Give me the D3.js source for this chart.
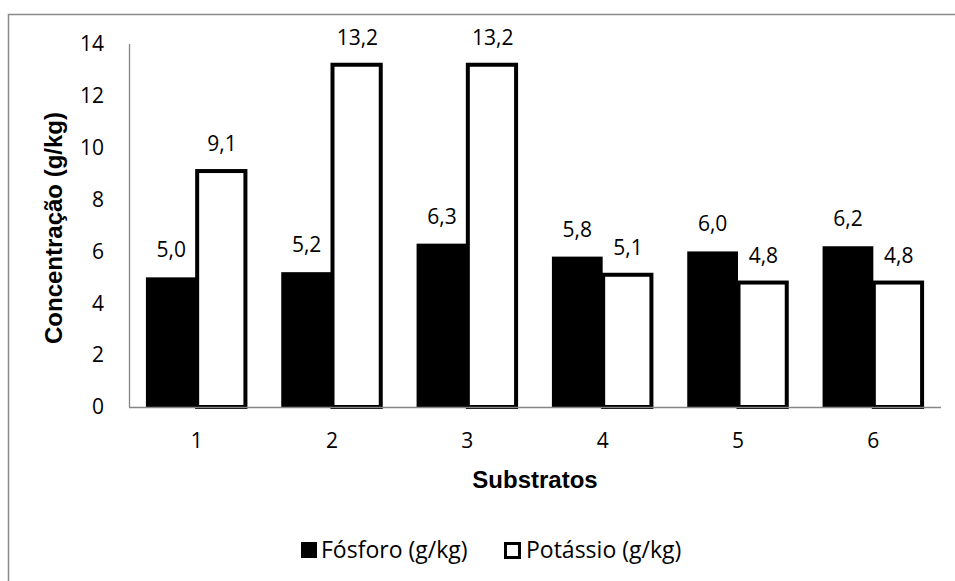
<!DOCTYPE html>
<html>
<head>
<meta charset="utf-8">
<script src="https://cdn.jsdelivr.net/npm/d3@7"></script>
<style>
  html, body { margin: 0; padding: 0; background: #fff; }
  svg { display: block; }
  .num { font-family: "Open Sans", Lato, sans-serif; font-size: 21px; fill: #000; }
  .leg { font-family: "Open Sans", Lato, sans-serif; font-size: 23px; fill: #000; }
  .title { font-family: "Liberation Sans", Arial, sans-serif; font-weight: bold; font-size: 24px; fill: #000; }
</style>
</head>
<body>
<svg id="chart" width="955" height="581"></svg>
<script>
// Substrate categories and nutrient concentrations (g/kg)
const substratos = ["1", "2", "3", "4", "5", "6"];
const fosforo = [5.0, 5.2, 6.3, 5.8, 6.0, 6.2];
const potassio = [9.1, 13.2, 13.2, 5.1, 4.8, 4.8];
const yTicks = [0, 2, 4, 6, 8, 10, 12, 14];
const seriesNames = ["Fósforo (g/kg)", "Potássio (g/kg)"];

const svg = d3.select("#chart");
const W = 955, H = 581;
const plot = { left: 129, right: 941, top: 44, bottom: 407 };
const fmt = v => v.toFixed(1).replace(".", ",");

// Outer chart frame
svg.append("rect")
  .attr("x", 8.5).attr("y", 14.5)
  .attr("width", W).attr("height", H)
  .attr("fill", "none").attr("stroke", "#8a8a8a").attr("stroke-width", 1.5);

const x = d3.scaleBand().domain(substratos).range([plot.left, plot.right])
  .paddingInner(0.25).paddingOuter(0.125);
const xs = d3.scaleBand().domain([0, 1]).range([0, x.bandwidth()]);
const y = d3.scaleLinear().domain([0, 14]).range([plot.bottom, plot.top]);

// Y axis: labels only, plus a plain grey line
const yAxis = d3.axisLeft(y).tickValues(yTicks).tickSize(0).tickPadding(25).tickFormat(d3.format("d"));
const gy = svg.append("g").attr("transform", `translate(${plot.left},0)`).call(yAxis);
gy.select(".domain").remove();
gy.selectAll("text").attr("class", "num").attr("font-family", null).attr("font-size", null);
svg.append("line")
  .attr("x1", plot.left + 0.5).attr("x2", plot.left + 0.5)
  .attr("y1", plot.top).attr("y2", plot.bottom)
  .attr("stroke", "#868686").attr("stroke-width", 1.3);

// Phosphorus bars (solid black)
const groups = svg.append("g");
groups.selectAll("rect.f").data(fosforo).join("rect")
  .attr("class", "f")
  .attr("x", (d, i) => x(substratos[i]) + xs(0))
  .attr("y", d => y(d))
  .attr("width", xs.bandwidth())
  .attr("height", d => y(0) - y(d))
  .attr("fill", "#000");

// X axis baseline
const xAxis = d3.axisBottom(x).tickSize(0).tickPadding(26);
const gx = svg.append("g").attr("transform", `translate(0,${plot.bottom})`).call(xAxis);
gx.select(".domain").remove();
gx.selectAll("text").attr("class", "num").attr("font-family", null).attr("font-size", null);
svg.append("line")
  .attr("x1", plot.left).attr("x2", plot.right)
  .attr("y1", plot.bottom + 0.5).attr("y2", plot.bottom + 0.5)
  .attr("stroke", "#868686").attr("stroke-width", 1.3);

// Potassium bars (white with heavy black outline)
const sw = 4;
groups.selectAll("rect.p").data(potassio).join("rect")
  .attr("class", "p")
  .attr("x", (d, i) => x(substratos[i]) + xs(1) + 0.5)
  .attr("y", d => y(d))
  .attr("width", xs.bandwidth() - 2.5)
  .attr("height", d => y(0) - y(d))
  .attr("fill", "#fff")
  .attr("stroke", "#000").attr("stroke-width", sw);

// Value labels
const labels = svg.append("g");
[fosforo, potassio].forEach((vals, s) => {
  labels.selectAll(null).data(vals).join("text")
    .attr("class", "num")
    .attr("x", (d, i) => x(substratos[i]) + xs(s) + xs.bandwidth() / 2)
    .attr("y", d => y(d) - 20)
    .attr("text-anchor", "middle")
    .text(fmt);
});

// Axis titles
svg.append("text").attr("class", "title")
  .attr("x", (plot.left + plot.right) / 2).attr("y", 488)
  .attr("text-anchor", "middle").text("Substratos");
svg.append("text").attr("class", "title")
  .attr("transform", "translate(62,228) rotate(-90)")
  .attr("text-anchor", "middle").text("Concentração (g/kg)");

// Legend
const legend = svg.append("g");
legend.append("rect").attr("x", 301).attr("y", 542).attr("width", 16).attr("height", 16).attr("fill", "#000");
legend.append("text").attr("class", "leg").attr("x", 321).attr("y", 558).text(seriesNames[0]);
legend.append("rect").attr("x", 505.5).attr("y", 543.5).attr("width", 14).attr("height", 14)
  .attr("fill", "#fff").attr("stroke", "#000").attr("stroke-width", 3);
legend.append("text").attr("class", "leg").attr("x", 526).attr("y", 558).text(seriesNames[1]);
</script>
</body>
</html>
